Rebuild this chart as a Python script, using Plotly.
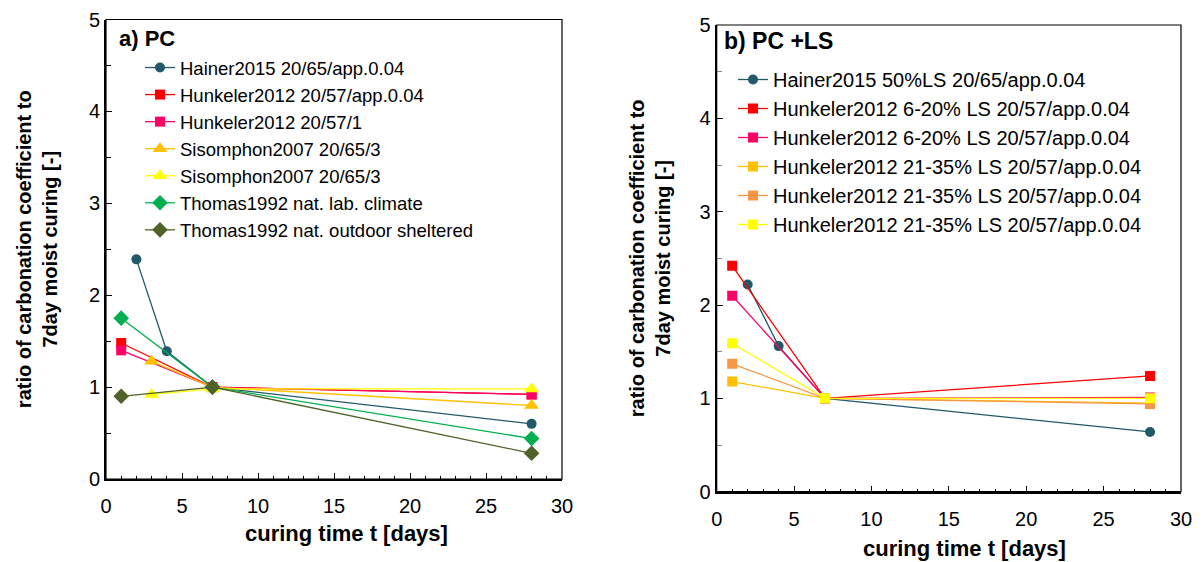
import plotly.graph_objects as go

# ---------------- data ----------------
# panel a) PC
pc_names = [
    "Hainer2015 20/65/app.0.04",
    "Hunkeler2012 20/57/app.0.04",
    "Hunkeler2012 20/57/1",
    "Sisomphon2007 20/65/3",
    "Sisomphon2007 20/65/3",
    "Thomas1992 nat. lab. climate",
    "Thomas1992 nat. outdoor sheltered",
]
pc_x = [
    [2, 4, 7, 28],
    [1, 7, 28],
    [1, 7, 28],
    [3, 7, 28],
    [3, 7, 28],
    [1, 7, 28],
    [1, 7, 28],
]
pc_y = [
    [2.39, 1.39, 1.0, 0.6],
    [1.48, 1.0, 0.92],
    [1.40, 1.0, 0.92],
    [1.28, 1.0, 0.80],
    [0.92, 0.98, 0.98],
    [1.75, 1.0, 0.44],
    [0.9, 1.0, 0.28],
]
pc_colors = ["#215968", "#FF0000", "#FF0066", "#FFC000", "#FFFF00", "#00B050", "#4F6228"]
pc_symbols = ["circle", "square", "square", "triangle-up", "triangle-up", "diamond", "diamond"]

# panel b) PC +LS
ls_names = [
    "Hainer2015 50%LS 20/65/app.0.04",
    "Hunkeler2012 6-20% LS 20/57/app.0.04",
    "Hunkeler2012 6-20% LS 20/57/app.0.04",
    "Hunkeler2012 21-35% LS 20/57/app.0.04",
    "Hunkeler2012 21-35% LS 20/57/app.0.04",
    "Hunkeler2012 21-35% LS 20/57/app.0.04",
]
ls_x = [
    [2, 4, 7, 28],
    [1, 7, 28],
    [1, 7, 28],
    [1, 7, 28],
    [1, 7, 28],
    [1, 7, 28],
]
ls_y = [
    [2.22, 1.56, 1.0, 0.64],
    [2.42, 1.0, 1.24],
    [2.10, 1.0, 1.01],
    [1.18, 1.0, 0.95],
    [1.37, 1.0, 0.94],
    [1.59, 1.0, 1.0],
]
ls_colors = ["#215968", "#FF0000", "#FF0066", "#FFC000", "#F79646", "#FFFF00"]
ls_symbols = ["circle", "square", "square", "square", "square", "square"]

x_title = "curing time t [days]"
y_title = "ratio of carbonation coefficient to<br>7day moist curing [-]"
panel_titles = ["a) PC", "b) PC +LS"]

# ---------------- figure ----------------
OFF = 8  # default page body margin
W, H = 1203 - OFF, 562 - OFF
FONT = "Liberation Sans, Arial, sans-serif"

sizes = {"circle": 10, "square": 10, "triangle-up": 13, "diamond": 12}

fig = go.Figure()
for n, xs, ys, c, s in zip(pc_names, pc_x, pc_y, pc_colors, pc_symbols):
    fig.add_trace(go.Scatter(
        x=xs, y=ys, name=n, mode="lines+markers",
        line=dict(color=c, width=1.3),
        marker=dict(color=c, symbol=s, size=sizes[s]),
        xaxis="x", yaxis="y", legend="legend",
    ))
for n, xs, ys, c, s in zip(ls_names, ls_x, ls_y, ls_colors, ls_symbols):
    fig.add_trace(go.Scatter(
        x=xs, y=ys, name=n, mode="lines+markers",
        line=dict(color=c, width=1.3),
        marker=dict(color=c, symbol=s, size=sizes[s]),
        xaxis="x2", yaxis="y2", legend="legend2",
    ))

def px_x(p):
    return (p - OFF) / W

def px_y(p):
    return 1 - (p - OFF) / H

ax_common = dict(
    showline=True, linecolor="#000000", linewidth=2,
    ticks="inside", ticklen=6, tickwidth=1.2, tickcolor="#000000",
    showgrid=False, zeroline=False, automargin=False,
    tickfont=dict(family=FONT, size=20, color="#000000"),
)
xt_font = dict(family=FONT, size=22, weight="bold", color="#000000")
yt_font = dict(family=FONT, size=20, weight="bold", color="#000000")

fig.update_layout(
    width=W, height=H,
    margin=dict(l=0, r=0, t=0, b=0),
    paper_bgcolor="white", plot_bgcolor="white",
    font=dict(family=FONT, color="#000000"),
    xaxis=dict(domain=[px_x(106), px_x(562)], range=[0, 30], dtick=5, anchor="y",
               minor=dict(dtick=1, ticks="inside", ticklen=3, tickcolor="#000000"),
               ticklabelstandoff=8,
               **ax_common),
    yaxis=dict(domain=[px_y(479), px_y(19.5)], range=[0, 5], dtick=1, anchor="x",
               minor=dict(dtick=0.5, ticks="inside", ticklen=5, tickcolor="#000000"),
               title=dict(text=y_title, font=yt_font, standoff=26),
               **ax_common),
    xaxis2=dict(domain=[px_x(716.7), px_x(1181)], range=[0, 30], dtick=5, anchor="y2",
                minor=dict(dtick=1, ticks="inside", ticklen=3, tickcolor="#000000"),
                ticklabelstandoff=8,
                **ax_common),
    yaxis2=dict(domain=[px_y(491.7), px_y(25)], range=[0, 5], dtick=1, anchor="x2",
                minor=dict(dtick=0.5, ticks="inside", ticklen=5, tickcolor="#888888"),
                title=dict(text=y_title, font=yt_font, standoff=24),
                **ax_common),
    legend=dict(x=px_x(140), y=px_y(49), xanchor="left", yanchor="top",
                bgcolor="rgba(0,0,0,0)", font=dict(family=FONT, size=18.5, color="#000000"),
                tracegroupgap=0, itemwidth=30),
    legend2=dict(x=px_x(733), y=px_y(60), xanchor="left", yanchor="top",
                 bgcolor="rgba(0,0,0,0)", font=dict(family=FONT, size=20, color="#000000"),
                 tracegroupgap=0, itemwidth=30),
    showlegend=True,
)

# x-axis titles (offset to the right as in the reference)
fig.add_annotation(text="<b>" + x_title + "</b>", xref="paper", yref="paper",
                   x=px_x(346), y=px_y(533), xanchor="center", yanchor="middle",
                   showarrow=False, font=xt_font)
fig.add_annotation(text="<b>" + x_title + "</b>", xref="paper", yref="paper",
                   x=px_x(964), y=px_y(548), xanchor="center", yanchor="middle",
                   showarrow=False, font=xt_font)

# frames around plot areas
for xr, yr in (("x", "y"), ("x2", "y2")):
    fig.add_shape(type="rect", xref=f"{xr} domain", yref=f"{yr} domain",
                  x0=0, x1=1, y0=0, y1=1, line=dict(color="#000000", width=1.2),
                  fillcolor="rgba(0,0,0,0)", layer="above")

# panel titles
fig.add_annotation(text="<b>" + panel_titles[0] + "</b>", xref="x domain", yref="y domain",
                   x=0.025, y=0.99, xanchor="left", yanchor="top", showarrow=False,
                   font=dict(family=FONT, size=22, color="#000000"))
fig.add_annotation(text="<b>" + panel_titles[1] + "</b>", xref="x2 domain", yref="y2 domain",
                   x=0.012, y=0.997, xanchor="left", yanchor="top", showarrow=False,
                   font=dict(family=FONT, size=23, color="#000000"))

fig.write_html("out.html")
